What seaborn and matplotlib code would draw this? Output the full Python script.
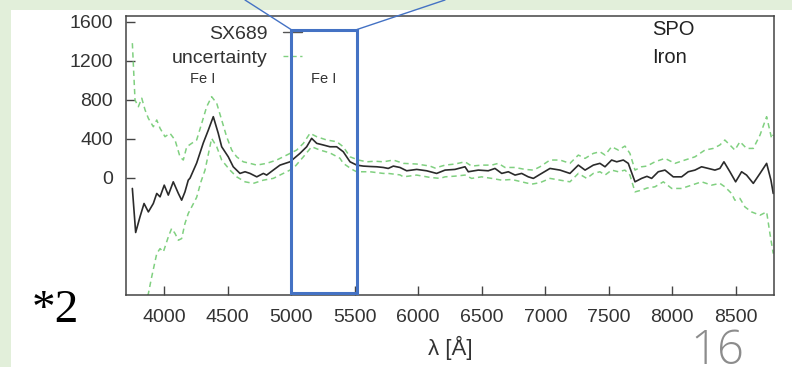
import matplotlib
matplotlib.use("Agg")
import matplotlib.pyplot as plt
from matplotlib.patches import Rectangle
from matplotlib.lines import Line2D
import seaborn as sns

# ---- data ----
sx_wl = [3750, 3776, 3810, 3842, 3876, 3915, 3942, 3968, 4001, 4033, 4072, 4112, 4138, 4164, 4190, 4204,
         4256, 4308, 4348, 4387, 4426, 4453, 4505, 4544, 4597, 4637, 4676, 4729, 4781, 4807, 4859, 4912,
         4991, 5069, 5122, 5161, 5201, 5253, 5305, 5358, 5410, 5463, 5516, 5568, 5620, 5673, 5725, 5764,
         5804, 5856, 5909, 5988, 6066, 6145, 6211, 6289, 6368, 6394, 6473, 6551, 6604, 6657, 6709, 6762,
         6814, 6866, 6906, 6958, 7037, 7116, 7194, 7260, 7313, 7378, 7430, 7470, 7522, 7562, 7614, 7653,
         7706, 7758, 7800, 7837, 7889, 7942, 8007, 8073, 8125, 8178, 8230, 8283, 8335, 8374, 8406, 8453,
         8498, 8545, 8584, 8637, 8690, 8742, 8776, 8794]
sx_val = [-109, -560, -400, -263, -349, -263, -160, -195, -75, -177, -41, -160, -229, -144, -24, -3,
          151, 356, 489, 626, 456, 318, 215, 113, 45, 62, 45, 10, 45, 28, 79, 130,
          164, 250, 318, 404, 353, 336, 318, 318, 267, 164, 130, 120, 116, 113, 106, 96,
          120, 106, 72, 86, 72, 45, 79, 86, 113, 62, 79, 72, 96, 45, 62, 28,
          45, 10, -6, 35, 96, 79, 45, 130, 79, 130, 148, 113, 182, 164, 182, 148,
          -41, -6, 15, -6, 62, 79, 10, 10, 62, 79, 113, 96, 79, 96, 164, 62,
          -41, 62, 28, -57, 45, 148, -24, -160]

up_wl = [3750, 3771, 3797, 3824, 3850, 3876, 3915, 3942, 3968, 4007, 4046, 4086, 4125, 4151, 4178, 4217,
         4256, 4296, 4335, 4374, 4414, 4453, 4492, 4532, 4571, 4623, 4676, 4729, 4807, 4886, 4965, 5043,
         5096, 5148, 5201, 5280, 5358, 5410, 5463, 5529, 5595, 5660, 5725, 5804, 5883, 5988, 6093, 6132,
         6211, 6289, 6368, 6420, 6499, 6578, 6630, 6683, 6762, 6840, 6906, 6958, 7037, 7116, 7194, 7260,
         7313, 7378, 7430, 7470, 7522, 7575, 7627, 7666, 7706, 7758, 7800, 7863, 7942, 8020, 8099, 8178,
         8256, 8322, 8374, 8413, 8453, 8492, 8532, 8584, 8637, 8690, 8742, 8781, 8792]
up_val = [1379, 797, 728, 815, 695, 609, 523, 592, 507, 421, 456, 387, 215, 182, 318, 353,
          387, 558, 728, 831, 763, 592, 421, 284, 215, 164, 148, 130, 148, 182, 233, 284,
          353, 456, 421, 387, 370, 318, 215, 182, 164, 170, 164, 182, 148, 141, 120, 100,
          130, 141, 164, 120, 130, 130, 148, 106, 106, 86, 79, 113, 182, 182, 148, 233,
          199, 250, 267, 233, 318, 284, 325, 250, 79, 113, 120, 164, 199, 148, 182, 215,
          284, 301, 336, 387, 336, 284, 370, 301, 301, 438, 626, 404, 440]

lo_wl = [3750, 3820, 3876, 3902, 3942, 3968, 3994, 4033, 4059, 4086, 4112, 4138, 4164, 4190, 4217, 4256,
         4290, 4322, 4374, 4414, 4453, 4518, 4571, 4637, 4702, 4781, 4859, 4938, 5017, 5096, 5161, 5227,
         5305, 5384, 5410, 5449, 5489, 5516, 5620, 5725, 5764, 5856, 5883, 5988, 6093, 6171, 6211, 6289,
         6368, 6420, 6499, 6578, 6657, 6735, 6814, 6892, 6958, 7037, 7116, 7194, 7260, 7326, 7378, 7430,
         7470, 7522, 7575, 7627, 7666, 7706, 7758, 7800, 7863, 7929, 7995, 8073, 8152, 8230, 8309, 8374,
         8413, 8466, 8492, 8532, 8571, 8623, 8690, 8742, 8768, 8794]
lo_val = [-1750, -1450, -1186, -1016, -776, -725, -759, -605, -519, -570, -639, -622, -468, -365, -298, -200,
          -40, 79, 404, 318, 182, 79, 10, -41, -57, -24, -6, 45, 96, 215, 318, 284,
          255, 200, 148, 113, 79, 62, 62, 45, 45, 30, 10, 28, 4, -6, 10, 17,
          28, -6, 10, -6, -24, -17, -41, -65, -50, -6, -24, -41, 45, -6, 45, 62,
          28, 79, 62, 79, 28, -144, -126, -105, -92, -41, -109, -109, -75, -41, -75, -57,
          -92, -160, -229, -211, -298, -349, -383, -349, -571, -776]

x_ticks = [4000, 4500, 5000, 5500, 6000, 6500, 7000, 7500, 8000, 8500]
y_ticks = [0, 400, 800, 1200, 1600]

# ---- style ----
sns.set_theme(style="white")
plt.rcParams["font.family"] = ["Liberation Sans", "DejaVu Sans"]

W, H = 792, 367
fig = plt.figure(figsize=(W / 100, H / 100), dpi=100)
fig.patch.set_facecolor("#e2efda")
fig.patches.append(Rectangle((11 / W, 0), 1, 1 - 10 / H, transform=fig.transFigure,
                             facecolor="white", edgecolor="none", zorder=-10))

ax_l, ax_r, ax_t, ax_b = 126, 774, 15.7, 295
ax = fig.add_axes([ax_l / W, 1 - ax_b / H, (ax_r - ax_l) / W, (ax_b - ax_t) / H])
ax.set_facecolor("white")

green = "#80d080"
dark = "#2b2b2b"
dash = (0, (3.5, 2.5))
sns.lineplot(x=lo_wl, y=lo_val, ax=ax, color=green, linestyle=dash, linewidth=1.1)
sns.lineplot(x=up_wl, y=up_val, ax=ax, color=green, linestyle=dash, linewidth=1.1)
sns.lineplot(x=sx_wl, y=sx_val, ax=ax, color=dark, linewidth=1.2)

ax.set_xlim(3700, 8800)
ax.set_ylim(-1200, 1660)
ax.set_xticks(x_ticks)
ax.set_yticks(y_ticks)
ax.tick_params(direction="in", length=6.5, width=1, color="#444444", labelsize=14,
               labelcolor="#333333", bottom=True, left=True)
ax.tick_params(axis="x", pad=10)
ax.tick_params(axis="y", pad=9.5)
for s in ax.spines.values():
    s.set_visible(True)
    s.set_color("#444444")
    s.set_linewidth(1.1)
ax.set_xlabel("λ [Å]", fontsize=16, color="#333333")
ax.xaxis.set_label_coords(0.5, -0.148)
ax.set_ylabel("")

handles = [Line2D([], [], color="#555555", linewidth=1.0),
           Line2D([], [], color=green, linestyle=dash, linewidth=1.0)]
leg = ax.legend(handles, ["SX689", "uncertainty"], loc="upper right",
                bbox_to_anchor=(0.2716, 0.966), frameon=False, markerfirst=False,
                fontsize=14, handlelength=1.0, handletextpad=0.75, labelspacing=0.33,
                borderaxespad=0, borderpad=0)
for t in leg.get_texts():
    t.set_color("#333333")

# annotations
ax.text(4306, 1013, "Fe I", fontsize=10.5, color="#333333", ha="center", va="center")
ax.text(5258, 1013, "Fe I", fontsize=10.5, color="#333333", ha="center", va="center")
ax.text(7840, 1515, "SPO", fontsize=14.5, color="#222222", ha="left", va="center")
ax.text(7840, 1228, "Iron", fontsize=14.5, color="#222222", ha="left", va="center")

# blue highlight box and connector lines (figure pixel coords)
blue = "#4472c4"
def fx(px):
    return px / W
def fy(py):
    return 1 - py / H
fig.patches.append(Rectangle((fx(291), fy(293)), (357 - 291) / W, (293 - 29.5) / H,
                             transform=fig.transFigure, fill=False, edgecolor=blue,
                             linewidth=2.2, zorder=5))
fig.lines.append(Line2D([fx(291), fx(245)], [fy(29.5), fy(0)], transform=fig.transFigure,
                        color=blue, linewidth=1.0, zorder=5))
fig.lines.append(Line2D([fx(357), fx(445)], [fy(29.5), fy(0)], transform=fig.transFigure,
                        color=blue, linewidth=1.0, zorder=5))

fig.text(fx(55), fy(311), "*2", fontsize=34, family=["Liberation Serif"], color="black",
         ha="center", va="center")
fig.text(fx(717), fy(352), "16", fontsize=34, family=["Open Sans", "DejaVu Sans"],
         fontweight="light", color="#8c8c8c", ha="center", va="center")

fig.savefig("out.png", dpi=100, facecolor=fig.get_facecolor())
